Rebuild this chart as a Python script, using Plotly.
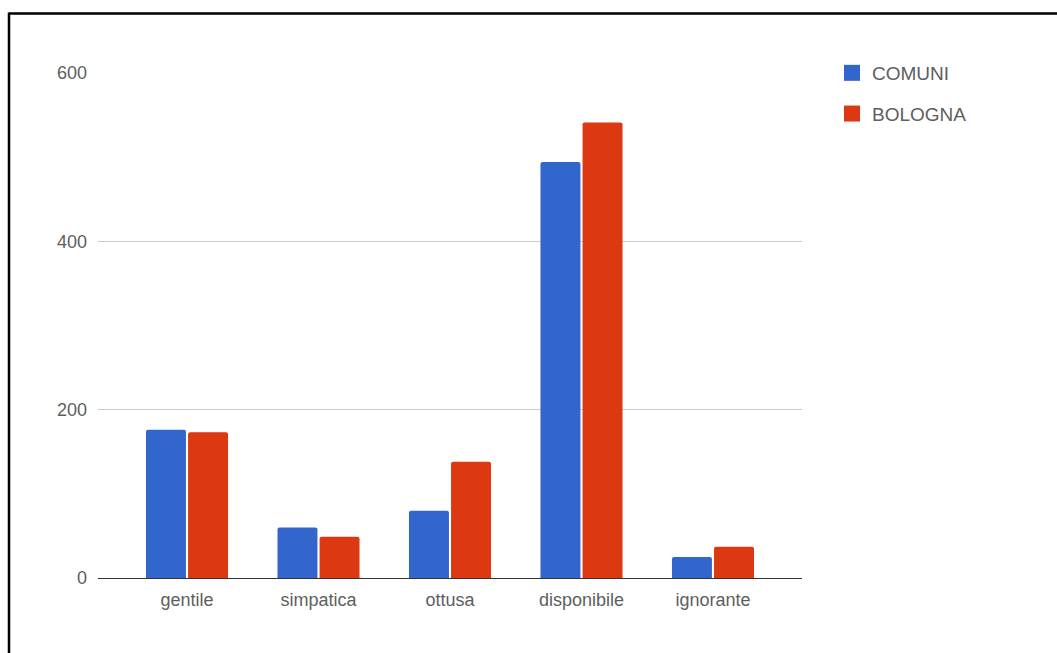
import plotly.graph_objects as go

categories = ["gentile", "simpatica", "ottusa", "disponibile", "ignorante"]
comuni = [176, 60, 80, 494, 25]
bologna = [173, 49, 138, 541, 37]
series_names = ["COMUNI", "BOLOGNA"]
y_ticks = [0, 200, 400, 600]

BLUE = "#3366cc"
RED = "#dc3912"
TEXT = "#5e5e5e"
FONT = "Liberation Sans, Arial, sans-serif"

W, H = 1057, 653
L, R, T, B = 98, 255, 72, 75
pw, ph = W - L - R, H - T - B

fig = go.Figure()
for name, vals, col, grp in [(series_names[0], comuni, BLUE, "a"), (series_names[1], bologna, RED, "b")]:
    fig.add_trace(go.Bar(x=categories, y=vals, name=name, showlegend=False, legendgroup=grp,
                         marker=dict(color=col, cornerradius=2, line=dict(width=0))))
    # legend proxy with a larger square swatch
    fig.add_trace(go.Scatter(x=[None], y=[None], mode="markers", name=name, legendgroup=grp,
                             marker=dict(symbol="square", size=16, color=col, line=dict(width=0)),
                             hoverinfo="skip"))

def px_x(p):
    return (p - L) / pw

def px_y(p):
    return (H - B - p) / ph

# frame border (left and top) of the screenshot
fig.add_shape(type="line", xref="paper", yref="paper", x0=px_x(9), x1=px_x(1060), y0=px_y(13.5), y1=px_y(13.5), line=dict(color="black", width=2.5))
fig.add_shape(type="line", xref="paper", yref="paper", x0=px_x(9), x1=px_x(9), y0=px_y(12.5), y1=px_y(660), line=dict(color="black", width=2.5))

fig.update_layout(
    width=W, height=H,
    margin=dict(l=L, r=R, t=T, b=B, pad=0),
    paper_bgcolor="white", plot_bgcolor="white",
    barmode="group", bargap=0.36, bargroupgap=0.05,
    font=dict(family=FONT, size=18, color=TEXT),
    showlegend=True,
    legend=dict(x=px_x(832), y=px_y(54), xanchor="left", yanchor="top",
                font=dict(family=FONT, size=19, color=TEXT),
                tracegroupgap=13, bgcolor="rgba(0,0,0,0)", itemsizing="trace"),
    xaxis=dict(range=[-0.677, 4.677], showgrid=False, showline=True, linecolor="#333333", linewidth=1.2,
               ticks="", ticklabelstandoff=5, tickfont=dict(size=18, color=TEXT), zeroline=False),
    yaxis=dict(range=[0, 601], tickvals=y_ticks, showgrid=True, gridcolor="#cccccc", gridwidth=1,
               zeroline=False, showline=False, ticks="", ticklabelstandoff=10,
               tickfont=dict(size=18, color=TEXT)),
)

fig.write_html("out.html")
